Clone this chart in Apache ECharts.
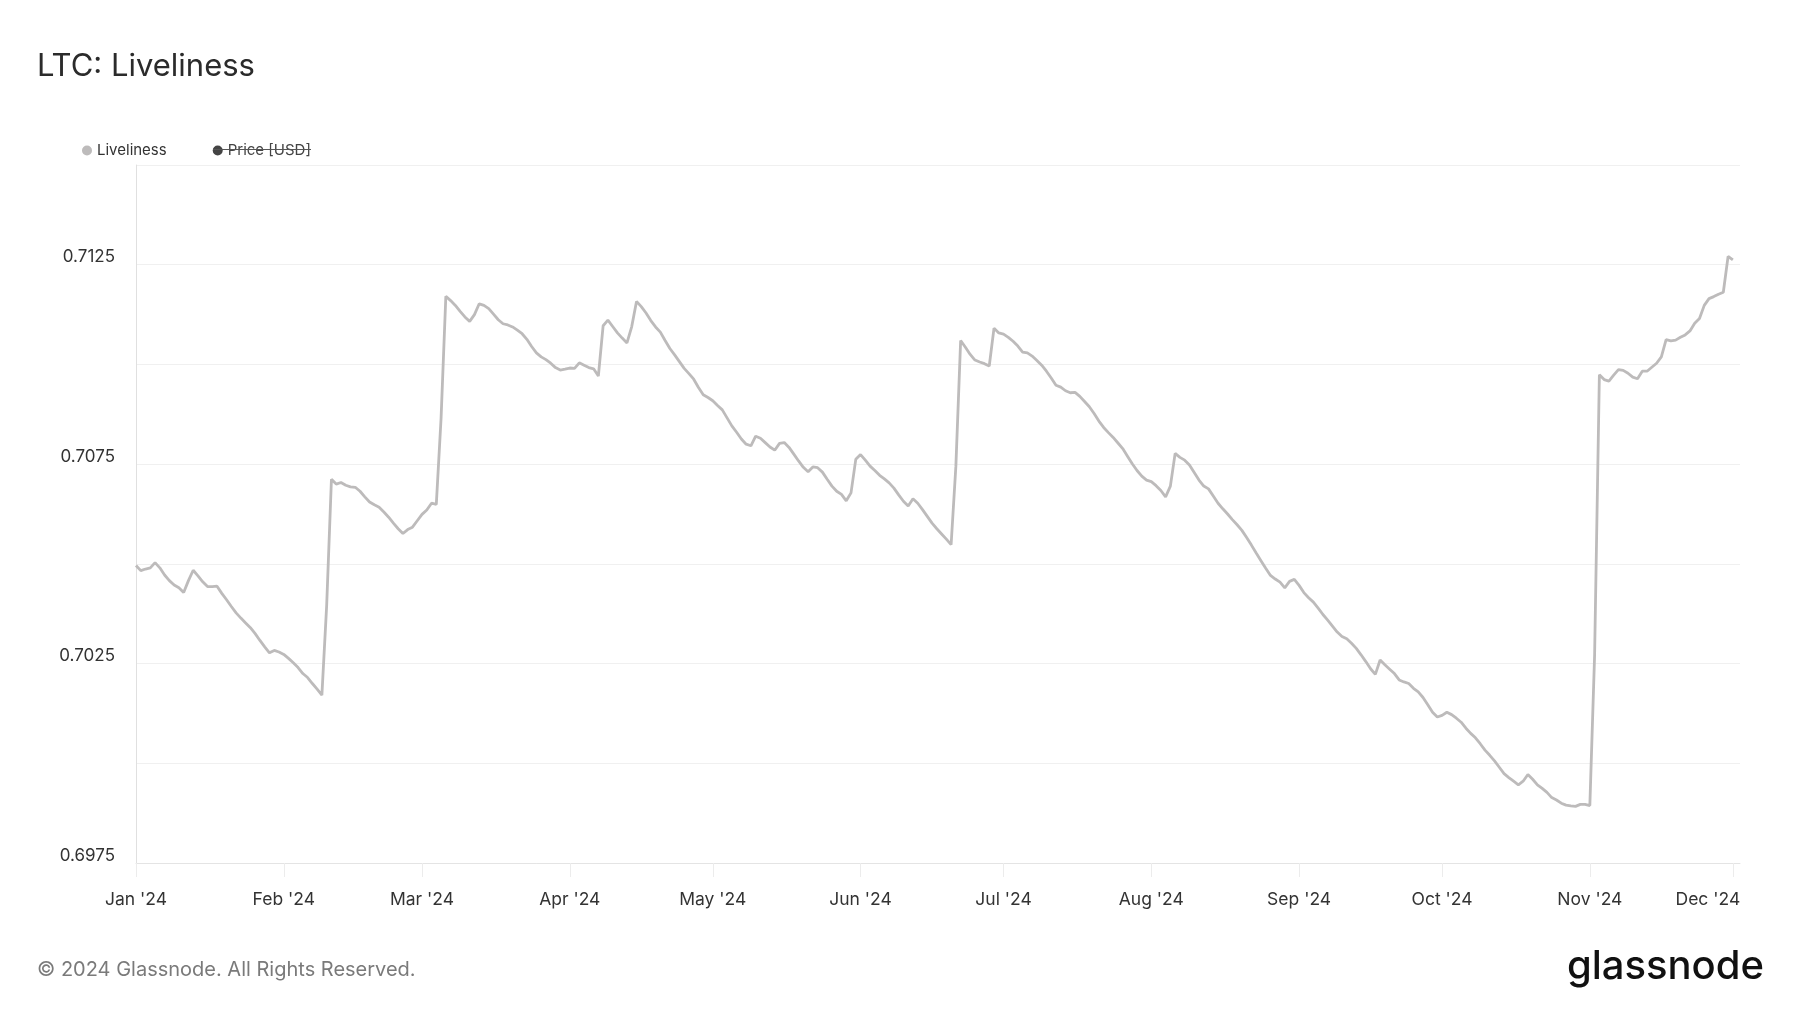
<!DOCTYPE html>
<html>
<head>
<meta charset="utf-8">
<script src="https://cdn.jsdelivr.net/npm/echarts@6/dist/echarts.min.js"></script>
<style>
html,body{margin:0;padding:0;background:#fff;}
#chart{width:1800px;height:1013px;}
</style>
</head>
<body>
<div id="chart"></div>
<script>
// ---- Data: LTC Liveliness, daily values, 2024 ----
const jan = [0.70496,0.70483,0.70487,0.70490,0.70503,0.70490,0.70472,0.70458,0.70447,0.70440,
  0.70428,0.70458,0.70484,0.70470,0.70455,0.70443,0.70443,0.70444,0.70426,0.70410,
  0.70393,0.70377,0.70364,0.70352,0.70340,0.70325,0.70308,0.70292,0.70277,0.70283,
  0.70279];
const feb = [0.70273,0.70263,0.70252,0.70240,0.70225,0.70215,0.70200,0.70186,0.70171,
  0.70396,0.70712,0.70700,0.70704,0.70697,0.70693,0.70692,0.70682,0.70668,0.70655,
  0.70648,0.70642,0.70630,0.70617,0.70602,0.70588,0.70576,0.70586,0.70592,0.70608];
const mar = [0.70624,0.70635,0.70652,0.70649,0.70865,0.71171,0.71160,0.71148,0.71133,0.71119,
  0.71108,0.71125,0.71152,0.71148,0.71140,0.71126,0.71112,0.71102,0.71099,0.71094,
  0.71086,0.71077,0.71063,0.71045,0.71029,0.71019,0.71012,0.71003,0.70992,0.70986,
  0.70988];
const apr = [0.70991,0.70990,0.71004,0.70998,0.70992,0.70989,0.70971,0.71097,0.71111,
  0.71095,0.71079,0.71066,0.71054,0.71095,0.71158,0.71145,0.71129,0.71110,0.71094,
  0.71081,0.71060,0.71040,0.71024,0.71007,0.70990,0.70977,0.70963,0.70942,0.70924,
  0.70917];
const may = [0.70909,0.70897,0.70886,0.70866,0.70846,0.70830,0.70813,0.70800,0.70796,
  0.70820,0.70815,0.70804,0.70793,0.70785,0.70802,0.70804,0.70792,0.70775,0.70758,
  0.70742,0.70731,0.70743,0.70741,0.70730,0.70712,0.70695,0.70682,0.70674,0.70658,
  0.70678,0.70762];
const jun = [0.70774,0.70760,0.70745,0.70734,0.70722,0.70713,0.70703,0.70690,
  0.70673,0.70657,0.70645,0.70663,0.70652,0.70636,0.70619,0.70602,0.70588,0.70575,
  0.70562,0.70548,0.70745,0.71060,0.71043,0.71025,0.71011,0.71006,0.71002,0.70996,
  0.71091,0.71079];
const jul = [0.71076,0.71068,0.71058,0.71046,0.71031,0.71029,0.71021,0.71010,
  0.70998,0.70983,0.70966,0.70948,0.70943,0.70934,0.70929,0.70930,0.70920,0.70907,
  0.70894,0.70877,0.70858,0.70842,0.70829,0.70817,0.70803,0.70789,0.70770,0.70751,
  0.70734,0.70720,0.70710];
const aug = [0.70706,0.70696,0.70684,0.70668,0.70695,0.70777,0.70767,
  0.70760,0.70748,0.70729,0.70710,0.70695,0.70688,0.70670,0.70652,0.70638,0.70625,
  0.70611,0.70598,0.70584,0.70566,0.70547,0.70527,0.70508,0.70489,0.70471,0.70462,
  0.70454,0.70440,0.70456,0.70461];
const sep = [0.70446,0.70428,0.70415,0.70404,0.70389,0.70373,
  0.70359,0.70344,0.70329,0.70318,0.70312,0.70301,0.70288,0.70272,0.70255,0.70237,
  0.70223,0.70259,0.70247,0.70236,0.70225,0.70209,0.70204,0.70200,0.70188,0.70179,
  0.70165,0.70147,0.70128,0.70116];
const oct = [0.70120,0.70128,0.70122,0.70113,0.70103,0.70088,
  0.70075,0.70064,0.70049,0.70033,0.70020,0.70006,0.69990,0.69974,0.69964,0.69955,
  0.69946,0.69955,0.69972,0.69960,0.69946,0.69937,0.69927,0.69914,0.69908,0.69900,
  0.69895,0.69893,0.69892,0.69897,0.69897];
const nov = [0.69894,0.70272,0.70974,0.70962,0.70958,
  0.70973,0.70987,0.70985,0.70978,0.70968,0.70964,0.70983,0.70983,0.70993,0.71003,
  0.71019,0.71062,0.71059,0.71061,0.71068,0.71074,0.71084,0.71103,0.71115,0.71148,
  0.71165,0.71170,0.71176,0.71181,0.71271];
const dec = [0.71262];

const monthSeries = [jan, feb, mar, apr, may, jun, jul, aug, sep, oct, nov, dec];
const monthNames = ['Jan','Feb','Mar','Apr','May','Jun','Jul','Aug','Sep','Oct','Nov','Dec'];
const tickYear = "'24";
const yMin = 0.6975, yMax = 0.715, yStep = 0.0025;

// ---- Build series data ----
const livelinessData = [];
monthSeries.forEach((vals, m) => {
  vals.forEach((v, i) => livelinessData.push([Date.UTC(2024, m, i + 1), v]));
});
const monthStarts = monthNames.map((_, m) => Date.UTC(2024, m, 1));
const lastTick = monthStarts[monthStarts.length - 1];

const FONT = 'Inter, "Noto Sans", sans-serif';
const chart = echarts.init(document.getElementById('chart'), null, {renderer: 'canvas'});

chart.setOption({
  backgroundColor: '#ffffff',
  animation: false,
  textStyle: {fontFamily: FONT},
  title: [
    {text: 'LTC: Liveliness', left: 32, top: 46,
     textStyle: {fontFamily: FONT, fontSize: 31, fontWeight: 400, color: '#2b2b2b'}},
    {text: '© 2024 Glassnode. All Rights Reserved.', left: 32, top: 955,
     textStyle: {fontFamily: FONT, fontSize: 20, fontWeight: 400, color: '#7a7a7a'}},
    {text: 'glassnode', right: 31, top: 942,
     textStyle: {fontFamily: FONT, fontSize: 40, fontWeight: 500, color: '#111111'}}
  ],
  legend: {
    left: 77, top: 138,
    icon: 'circle', itemWidth: 10, itemHeight: 10, itemGap: 46,
    textStyle: {fontFamily: FONT, fontSize: 15, color: '#333'},
    inactiveColor: '#444',
    inactiveBorderColor: '#444',
    data: ['Liveliness', 'Price [USD]'],
    selected: {'Liveliness': true, 'Price [USD]': false}
  },
  graphic: [
    {type: 'line', z: 100, shape: {x1: 213, y1: 149.5, x2: 311, y2: 149.5},
     style: {stroke: '#555', lineWidth: 1}}
  ],
  grid: {left: 136, right: 60, top: 165, bottom: 150},
  xAxis: {
    type: 'value',
    min: Date.UTC(2024, 0, 1),
    max: Date.UTC(2024, 11, 2, 12),
    axisLine: {show: true, lineStyle: {color: '#e4e4e4', width: 1}},
    axisTick: {show: true, customValues: monthStarts, length: 14,
               lineStyle: {color: '#ececec', width: 1}},
    axisLabel: {
      customValues: monthStarts,
      margin: 28,
      fontFamily: FONT, fontSize: 17.5, color: '#333',
      rich: {
        last: {fontFamily: FONT, fontSize: 17.5, color: '#333', padding: [0, 50, 0, 0]}
      },
      formatter: (v) => {
        const txt = monthNames[new Date(v).getUTCMonth()] + ' ' + tickYear;
        return v === lastTick ? '{last|' + txt + '}' : txt;
      }
    },
    splitLine: {show: false}
  },
  yAxis: {
    type: 'value',
    min: yMin, max: yMax, interval: yStep,
    axisLine: {show: true, lineStyle: {color: '#e0e0e0', width: 1}},
    axisTick: {show: false},
    splitLine: {show: true, lineStyle: {color: '#f0f0f0', width: 1}},
    axisLabel: {
      margin: 21,
      fontFamily: FONT, fontSize: 17, color: '#333',
      verticalAlign: 'bottom',
      lineHeight: 15,
      formatter: (v) => {
        const k = Math.round((v - yMin) / yStep);
        return k % 2 === 0 ? v.toFixed(4) : '';
      }
    }
  },
  series: [
    {name: 'Liveliness', type: 'line', data: livelinessData,
     showSymbol: false, smooth: false,
     lineStyle: {color: '#bdbbbb', width: 2.8},
     itemStyle: {color: '#bdbbbb'}},
    {name: 'Price [USD]', type: 'line', data: [],
     showSymbol: false,
     lineStyle: {color: '#333'}, itemStyle: {color: '#333'}}
  ]
});
</script>
</body>
</html>
